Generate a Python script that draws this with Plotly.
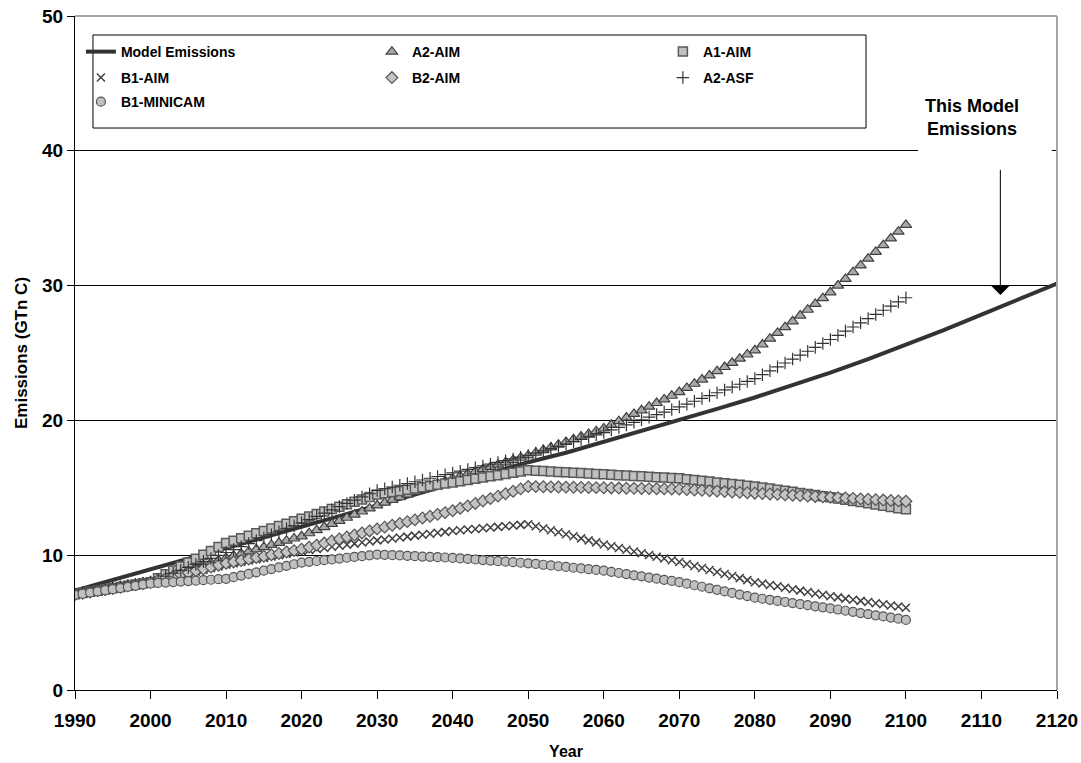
import plotly.graph_objects as go

# ---------------- data ----------------
years = list(range(1990, 2101))

model_years = list(range(1990, 2121, 5))
model_emissions = [7.37, 8.15, 8.95, 9.72, 10.5, 11.3, 12.1, 12.9, 13.7, 14.5, 15.3, 16.1, 16.9, 17.6,
                   18.4, 19.2, 20.0, 20.85, 21.7, 22.6, 23.55, 24.55, 25.6, 26.7, 27.85, 29.0, 30.15]

a2_aim = [7.10, 7.19, 7.28, 7.37, 7.46, 7.55, 7.64, 7.73, 7.82, 7.91,
          8.00, 8.18, 8.36, 8.54, 8.72, 8.90, 9.08, 9.26, 9.44, 9.62,
          9.80, 9.96, 10.12, 10.28, 10.44, 10.60, 10.76, 10.92, 11.08, 11.24,
          11.40, 11.63, 11.86, 12.09, 12.32, 12.55, 12.78, 13.01, 13.24, 13.47,
          13.70, 13.90, 14.10, 14.30, 14.50, 14.70, 14.90, 15.10, 15.30, 15.50,
          15.70, 15.87, 16.04, 16.21, 16.38, 16.55, 16.72, 16.89, 17.06, 17.23,
          17.40, 17.60, 17.80, 18.00, 18.20, 18.40, 18.60, 18.80, 19.00, 19.20,
          19.40, 19.67, 19.94, 20.21, 20.48, 20.75, 21.02, 21.29, 21.56, 21.83,
          22.10, 22.41, 22.72, 23.03, 23.34, 23.65, 23.96, 24.27, 24.58, 24.89,
          25.20, 25.63, 26.06, 26.49, 26.92, 27.35, 27.78, 28.21, 28.64, 29.07,
          29.50, 30.00, 30.50, 31.00, 31.50, 32.00, 32.50, 33.00, 33.50, 34.00,
          34.50]

a1_aim = [7.10, 7.19, 7.28, 7.37, 7.46, 7.55, 7.64, 7.73, 7.82, 7.91,
          8.00, 8.29, 8.58, 8.87, 9.16, 9.45, 9.74, 10.03, 10.32, 10.61,
          10.90, 11.08, 11.26, 11.44, 11.62, 11.80, 11.98, 12.16, 12.34, 12.52,
          12.70, 12.88, 13.06, 13.24, 13.42, 13.60, 13.78, 13.96, 14.14, 14.32,
          14.50, 14.59, 14.68, 14.77, 14.86, 14.95, 15.04, 15.13, 15.22, 15.31,
          15.40, 15.49, 15.58, 15.67, 15.76, 15.85, 15.94, 16.03, 16.12, 16.21,
          16.30, 16.27, 16.24, 16.21, 16.18, 16.15, 16.12, 16.09, 16.06, 16.03,
          16.00, 15.97, 15.94, 15.91, 15.88, 15.85, 15.82, 15.79, 15.76, 15.73,
          15.70, 15.64, 15.58, 15.52, 15.46, 15.40, 15.34, 15.28, 15.22, 15.16,
          15.10, 15.02, 14.94, 14.86, 14.78, 14.70, 14.62, 14.54, 14.46, 14.38,
          14.30, 14.21, 14.12, 14.03, 13.94, 13.85, 13.76, 13.67, 13.58, 13.49,
          13.40]

b1_aim = [7.10, 7.19, 7.28, 7.37, 7.46, 7.55, 7.64, 7.73, 7.82, 7.91,
          8.00, 8.13, 8.26, 8.39, 8.52, 8.65, 8.78, 8.91, 9.04, 9.17,
          9.30, 9.40, 9.50, 9.60, 9.70, 9.80, 9.90, 10.00, 10.10, 10.20,
          10.30, 10.38, 10.46, 10.54, 10.62, 10.70, 10.78, 10.86, 10.94, 11.02,
          11.10, 11.17, 11.24, 11.31, 11.38, 11.45, 11.52, 11.59, 11.66, 11.73,
          11.80, 11.85, 11.90, 11.95, 12.00, 12.05, 12.10, 12.15, 12.20, 12.25,
          12.30, 12.15, 12.00, 11.85, 11.70, 11.55, 11.40, 11.25, 11.10, 10.95,
          10.80, 10.67, 10.54, 10.41, 10.28, 10.15, 10.02, 9.89, 9.76, 9.63,
          9.50, 9.35, 9.20, 9.05, 8.90, 8.75, 8.60, 8.45, 8.30, 8.15,
          8.00, 7.90, 7.79, 7.69, 7.58, 7.48, 7.37, 7.27, 7.16, 7.06,
          6.95, 6.87, 6.78, 6.70, 6.61, 6.53, 6.44, 6.36, 6.27, 6.19,
          6.10]

b2_aim = [7.10, 7.19, 7.28, 7.37, 7.46, 7.55, 7.64, 7.73, 7.82, 7.91,
          8.00, 8.14, 8.28, 8.42, 8.56, 8.70, 8.84, 8.98, 9.12, 9.26,
          9.40, 9.50, 9.61, 9.71, 9.82, 9.92, 10.03, 10.13, 10.24, 10.34,
          10.45, 10.60, 10.75, 10.90, 11.05, 11.20, 11.35, 11.50, 11.65, 11.80,
          11.95, 12.08, 12.22, 12.35, 12.49, 12.62, 12.76, 12.89, 13.03, 13.16,
          13.30, 13.48, 13.66, 13.84, 14.02, 14.20, 14.38, 14.56, 14.74, 14.92,
          15.10, 15.09, 15.08, 15.07, 15.06, 15.05, 15.04, 15.03, 15.02, 15.01,
          15.00, 14.99, 14.98, 14.97, 14.96, 14.95, 14.94, 14.93, 14.92, 14.91,
          14.90, 14.87, 14.84, 14.81, 14.78, 14.75, 14.72, 14.69, 14.66, 14.63,
          14.60, 14.57, 14.54, 14.51, 14.48, 14.45, 14.42, 14.39, 14.36, 14.33,
          14.30, 14.27, 14.24, 14.21, 14.18, 14.15, 14.12, 14.09, 14.06, 14.03,
          14.00]

a2_asf = [7.10, 7.19, 7.28, 7.37, 7.46, 7.55, 7.64, 7.73, 7.82, 7.91,
          8.00, 8.22, 8.44, 8.66, 8.88, 9.10, 9.32, 9.54, 9.76, 9.98,
          10.20, 10.42, 10.64, 10.86, 11.08, 11.30, 11.52, 11.74, 11.96, 12.18,
          12.40, 12.64, 12.88, 13.12, 13.36, 13.60, 13.84, 14.08, 14.32, 14.56,
          14.80, 14.93, 15.06, 15.19, 15.32, 15.45, 15.58, 15.71, 15.84, 15.97,
          16.10, 16.23, 16.36, 16.49, 16.62, 16.75, 16.88, 17.01, 17.14, 17.27,
          17.40, 17.57, 17.74, 17.91, 18.08, 18.25, 18.42, 18.59, 18.76, 18.93,
          19.10, 19.29, 19.48, 19.67, 19.86, 20.05, 20.24, 20.43, 20.62, 20.81,
          21.00, 21.21, 21.42, 21.63, 21.84, 22.05, 22.26, 22.47, 22.68, 22.89,
          23.10, 23.39, 23.68, 23.97, 24.26, 24.55, 24.84, 25.13, 25.42, 25.71,
          26.00, 26.31, 26.62, 26.93, 27.24, 27.55, 27.86, 28.17, 28.48, 28.79,
          29.10]

b1_minicam = [7.06, 7.14, 7.23, 7.31, 7.40, 7.48, 7.56, 7.65, 7.73, 7.82,
              7.90, 7.94, 7.97, 8.01, 8.04, 8.08, 8.11, 8.15, 8.18, 8.22,
              8.25, 8.37, 8.49, 8.61, 8.73, 8.85, 8.97, 9.09, 9.21, 9.33,
              9.45, 9.51, 9.57, 9.63, 9.69, 9.75, 9.81, 9.87, 9.93, 9.99,
              10.05, 10.03, 10.00, 9.98, 9.95, 9.93, 9.90, 9.88, 9.85, 9.83,
              9.80, 9.76, 9.72, 9.68, 9.64, 9.60, 9.56, 9.52, 9.48, 9.44,
              9.40, 9.35, 9.29, 9.24, 9.18, 9.13, 9.07, 9.02, 8.96, 8.91,
              8.85, 8.77, 8.68, 8.60, 8.51, 8.43, 8.34, 8.26, 8.17, 8.09,
              8.00, 7.89, 7.77, 7.66, 7.54, 7.43, 7.31, 7.20, 7.08, 6.97,
              6.85, 6.77, 6.69, 6.61, 6.53, 6.45, 6.37, 6.29, 6.21, 6.13,
              6.05, 5.97, 5.88, 5.80, 5.71, 5.63, 5.54, 5.46, 5.37, 5.29,
              5.20]

x_ticks = list(range(1990, 2121, 10))
y_ticks = [0, 10, 20, 30, 40, 50]

annotation_text = "This Model<br>Emissions"
arrow_year = 2112.5
arrow_tip = 29.3
arrow_tail = 38.7

# ---------------- figure ----------------
FONT = "Liberation Sans, Arial, sans-serif"
fig = go.Figure()

fig.add_trace(go.Scatter(x=model_years, y=model_emissions, mode="lines", name="Model Emissions",
                         line=dict(color="#333333", width=4), legend="legend"))

def add_markers(name, yvals, symbol, size, fill, edge, lw, leg):
    fig.add_trace(go.Scatter(x=years, y=yvals, mode="markers", name=name, legend=leg,
                             marker=dict(symbol=symbol, size=size, color=fill,
                                         line=dict(color=edge, width=lw))))

add_markers("A2-AIM", a2_aim, "triangle-up", 10, "#A8A8A8", "#404040", 1.2, "legend")
add_markers("A1-AIM", a1_aim, "square", 9, "#C0C0C0", "#5A5A5A", 1.5, "legend")
add_markers("B1-AIM", b1_aim, "x-thin-open", 8, "#404040", "#404040", 1.5, "legend2")
add_markers("B2-AIM", b2_aim, "diamond", 9, "#C4C4C4", "#555555", 1.2, "legend2")
add_markers("A2-ASF", a2_asf, "cross-thin-open", 9, "#333333", "#333333", 1.2, "legend2")
add_markers("B1-MINICAM", b1_minicam, "circle", 9, "#C0C0C0", "#555555", 1.2, "legend3")

leg_font = dict(family=FONT, size=14, color="black", weight="bold")

def leg(yv):
    return dict(orientation="h", x=0.006, xanchor="left", y=yv, yanchor="top",
                entrywidth=246, entrywidthmode="pixels",
                bgcolor="rgba(0,0,0,0)", borderwidth=0, font=leg_font, traceorder="normal")

fig.update_layout(
    width=1081, height=763, autosize=False,
    margin=dict(l=75, r=24, t=16, b=73, autoexpand=False),
    paper_bgcolor="white", plot_bgcolor="white",
    font=dict(family=FONT, color="black", size=16, weight="bold"),
    showlegend=True,
    legend=leg(0.9703), legend2=leg(0.9318), legend3=leg(0.8961),
    xaxis=dict(range=[1990, 2120], tickvals=x_ticks, showgrid=False, zeroline=False,
               showline=True, linecolor="black", linewidth=1, automargin=False,
               ticks="outside", ticklen=8, tickcolor="black", ticklabelstandoff=5,
               ticklabeloverflow="allow",
               tickfont=dict(family=FONT, size=19, weight="bold"),
               title=dict(text="Year", font=dict(family=FONT, size=16, weight="bold"), standoff=16)),
    yaxis=dict(range=[0, 50], tickvals=y_ticks, showgrid=True, gridcolor="black", gridwidth=1,
               zeroline=False, showline=True, linecolor="black", linewidth=1, automargin=False,
               ticks="outside", ticklen=7, tickcolor="black", ticklabeloverflow="allow",
               tickfont=dict(family=FONT, size=19, weight="bold"),
               title=dict(text="Emissions (GTn C)", font=dict(family=FONT, size=17, weight="bold"), standoff=10)),
)

# legend frame
fig.add_shape(type="rect", xref="paper", yref="paper", x0=0.0183, x1=0.8055, y0=0.8338, y1=0.9718,
              line=dict(color="black", width=1), fillcolor="white", layer="below")
# gray top & right frame
fig.add_shape(type="line", xref="paper", yref="paper", x0=0, x1=1, y0=1, y1=1,
              line=dict(color="#A6A6A6", width=2), layer="above")
fig.add_shape(type="line", xref="paper", yref="paper", x0=1, x1=1, y0=0, y1=1,
              line=dict(color="#A6A6A6", width=2), layer="above")
# white background behind the text label (interrupts the 40 gridline)
fig.add_shape(type="rect", xref="x", yref="y", x0=2101.6, x1=2119.3, y0=39.6, y1=45.3,
              line=dict(width=0), fillcolor="white", layer="above")

fig.add_annotation(x=2108.75, y=42.5, xref="x", yref="y", text=annotation_text, showarrow=False,
                   font=dict(family=FONT, size=18, color="black", weight="bold"),
                   align="center", valign="middle")
fig.add_annotation(x=arrow_year, y=arrow_tip, ax=arrow_year, ay=arrow_tail, xref="x", yref="y",
                   axref="x", ayref="y", text="", showarrow=True, arrowhead=1, arrowsize=3,
                   arrowwidth=1, arrowcolor="black", standoff=0)

fig.write_html("out.html", config={"displayModeBar": False, "responsive": False},
               post_script="document.body.style.margin='0';")
